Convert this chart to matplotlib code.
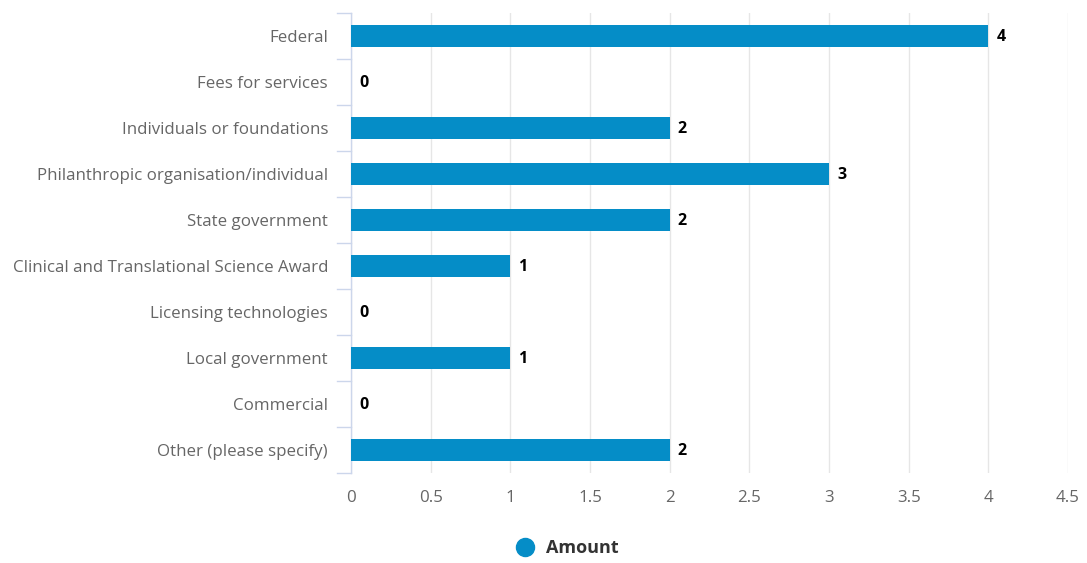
import matplotlib.pyplot as plt
from matplotlib.lines import Line2D

# funding sources and counts
categorias = [
    "Federal",
    "Fees for services",
    "Individuals or foundations",
    "Philanthropic organisation/individual",
    "State government",
    "Clinical and Translational Science Award",
    "Licensing technologies",
    "Local government",
    "Commercial",
    "Other (please specify)",
]
valores = [4, 0, 2, 3, 2, 1, 0, 1, 0, 2]
ticks_x = [0, 0.5, 1, 1.5, 2, 2.5, 3, 3.5, 4, 4.5]

color_barra = "#058DC7"
color_eje = "#ccd6eb"

plt.rcParams['font.family'] = ['Open Sans', 'DejaVu Sans']

fig = plt.figure(figsize=(10.87, 5.63), dpi=100)
ax = fig.add_axes([351 / 1087, 1 - 473 / 563, (1068 - 351) / 1087, 460 / 563])

pos = list(range(len(categorias)))
ax.barh(pos, valores, height=0.48, color=color_barra, zorder=3)

for y, v in zip(pos, valores):
    ax.text(v + 0.05, y + 0.03, str(v), va="center", ha="left",
            fontsize=11.5, fontweight="bold", color="#000000", zorder=4)

ax.set_xlim(0, 4.5)
ax.set_ylim(len(categorias) - 0.5, -0.5)
ax.set_xticks(ticks_x)
ax.set_xticklabels([f"{t:g}" for t in ticks_x])
ax.set_yticks(pos)
ax.set_yticklabels(categorias)

# gridlines verticales
ax.grid(axis="x", color="#e6e6e6", linewidth=1, zorder=0)
ax.grid(axis="y", visible=False)

for lado in ["top", "right", "bottom"]:
    ax.spines[lado].set_visible(False)
ax.spines["left"].set_color(color_eje)
ax.spines["left"].set_linewidth(1)

ax.tick_params(axis="y", length=0, pad=16.5, labelsize=12.15, labelcolor="#666666")
ax.tick_params(axis="x", length=0, pad=12.5, labelsize=12.15, labelcolor="#666666")

# marcas del eje entre categorias
for b in [i - 0.5 for i in range(len(categorias) + 1)]:
    ax.plot([-0.085, 0], [b, b], color=color_eje, linewidth=1,
            clip_on=False, zorder=2)

# leyenda
handle = Line2D([], [], marker="o", linestyle="", markersize=13,
                color=color_barra)
leg = fig.legend([handle], ["Amount"], loc="center",
                 bbox_to_anchor=(0.518, 1 - 548 / 563), frameon=False,
                 handletextpad=0.15, prop={"weight": "bold", "size": 13})
leg.get_texts()[0].set_color("#333333")

fig.savefig("out.png", dpi=100)
plt.close(fig)
